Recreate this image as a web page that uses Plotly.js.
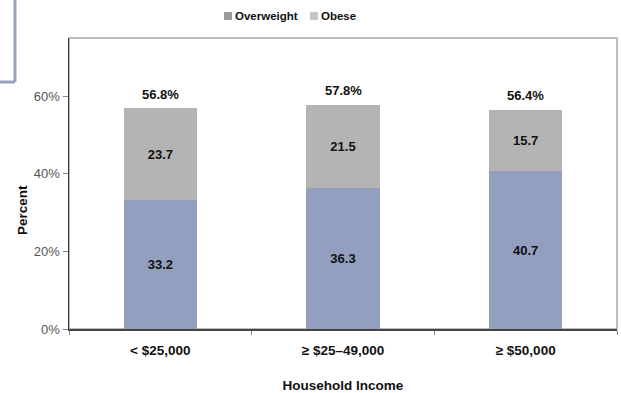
<!DOCTYPE html>
<html>
<head>
<meta charset="utf-8">
<script src="https://cdn.plot.ly/plotly-3.0.1.min.js"></script>
<style>html,body{margin:0;padding:0;background:#fff;}#chart{width:621px;height:393px;}</style>
</head>
<body>
<div id="chart"></div>
<script>
const categories = ["< $25,000", "≥ $25–49,000", "≥ $50,000"];
const overweight = [33.2, 36.3, 40.7];
const obese = [23.7, 21.5, 15.7];
const totals = [56.8, 57.8, 56.4];
const totalLabels = ["56.8%", "57.8%", "56.4%"];
const seriesNames = ["Overweight", "Obese"];
const yTickVals = [0, 20, 40, 60];
const yTickText = ["0%", "20%", "40%", "60%"];

const FONT = "Liberation Sans, Arial, sans-serif";
const barFont = {family: FONT, size: 13, color: "#111", weight: "bold"};

const traces = [
  {type: "bar", name: seriesNames[0], x: categories, y: overweight,
   text: overweight.map(v => v.toFixed(1)), textposition: "inside", insidetextanchor: "middle",
   textfont: barFont, marker: {color: "#939fbf"}, hoverinfo: "none"},
  {type: "bar", name: seriesNames[1], x: categories, y: obese,
   text: obese.map(v => v.toFixed(1)), textposition: "inside", insidetextanchor: "middle",
   textfont: barFont, marker: {color: "#b4b4b4"}, hoverinfo: "none"}
];

// container -> paper conversion helpers (plot area: x 69..617, y 38..329)
const L = 69, R = 617, T = 38, B = 329;
const px = x => (x - L) / (R - L);
const py = y => (B - y) / (B - T);

const annotations = categories.map((c, i) => ({
  x: c, y: totals[i], xref: "x", yref: "y", text: totalLabels[i],
  showarrow: false, yanchor: "bottom", yshift: 5,
  font: {family: FONT, size: 13, color: "#111", weight: "bold"}
}));

// y-axis title placed where the reference has it
annotations.push({xref: "paper", yref: "paper", x: px(22), y: py(210), textangle: -90,
  xanchor: "center", yanchor: "middle", showarrow: false, text: "Percent",
  font: {family: FONT, size: 13.5, color: "#111", weight: "bold"}});

// custom legend (small swatches close to their labels, as in the reference)
const legendX = [224, 310];
const legendColors = ["#9a9a9a", "#c4c4c4"];
const legendShapes = [];
seriesNames.forEach((n, i) => {
  legendShapes.push({type: "rect", xref: "paper", yref: "paper",
    x0: px(legendX[i]), x1: px(legendX[i] + 8), y0: py(20), y1: py(12),
    fillcolor: legendColors[i], line: {width: 0}});
  annotations.push({xref: "paper", yref: "paper", x: px(legendX[i] + 9), y: py(16),
    xanchor: "left", yanchor: "middle", showarrow: false, text: n,
    font: {family: FONT, size: 11.5, color: "#111", weight: "bold"}});
});

const layout = {
  width: 621, height: 393,
  margin: {l: L, r: 621 - R, t: T, b: 393 - B},
  paper_bgcolor: "#ffffff", plot_bgcolor: "#ffffff",
  barmode: "stack", bargap: 0.6,
  showlegend: false,
  font: {family: FONT, size: 11, color: "#333"},
  xaxis: {
    type: "category", range: [-0.5, 2.5], showgrid: false, zeroline: false,
    showline: true, linecolor: "#444", linewidth: 2,
    ticks: "outside", tickson: "boundaries", ticklen: 4, tickcolor: "#888",
    ticklabelstandoff: 8,
    tickfont: {family: FONT, size: 13.5, color: "#111", weight: "bold"},
    title: {text: "Household Income", standoff: 23,
            font: {family: FONT, size: 13.5, color: "#111", weight: "bold"}}
  },
  yaxis: {
    range: [0, 75], showgrid: false, zeroline: false,
    showline: true, linecolor: "#333", linewidth: 1.5,
    ticks: "outside", ticklen: 5, tickcolor: "#888",
    tickvals: yTickVals, ticktext: yTickText,
    tickfont: {family: FONT, size: 13, color: "#555"}
  },
  shapes: [
    {type: "rect", xref: "paper", yref: "paper", x0: 0, x1: 1, y0: 0, y1: 1,
     line: {color: "#a8a8a8", width: 1.5}, layer: "below"},
    {type: "line", xref: "paper", yref: "paper", x0: px(15), x1: px(15), y0: py(82), y1: py(-5),
     line: {color: "#9aa0c0", width: 3}},
    {type: "line", xref: "paper", yref: "paper", x0: px(-5), x1: px(15), y0: py(82), y1: py(82),
     line: {color: "#9aa0c0", width: 3}}
  ].concat(legendShapes),
  annotations: annotations
};

Plotly.newPlot("chart", traces, layout, {staticPlot: true, displayModeBar: false});
</script>
</body>
</html>
